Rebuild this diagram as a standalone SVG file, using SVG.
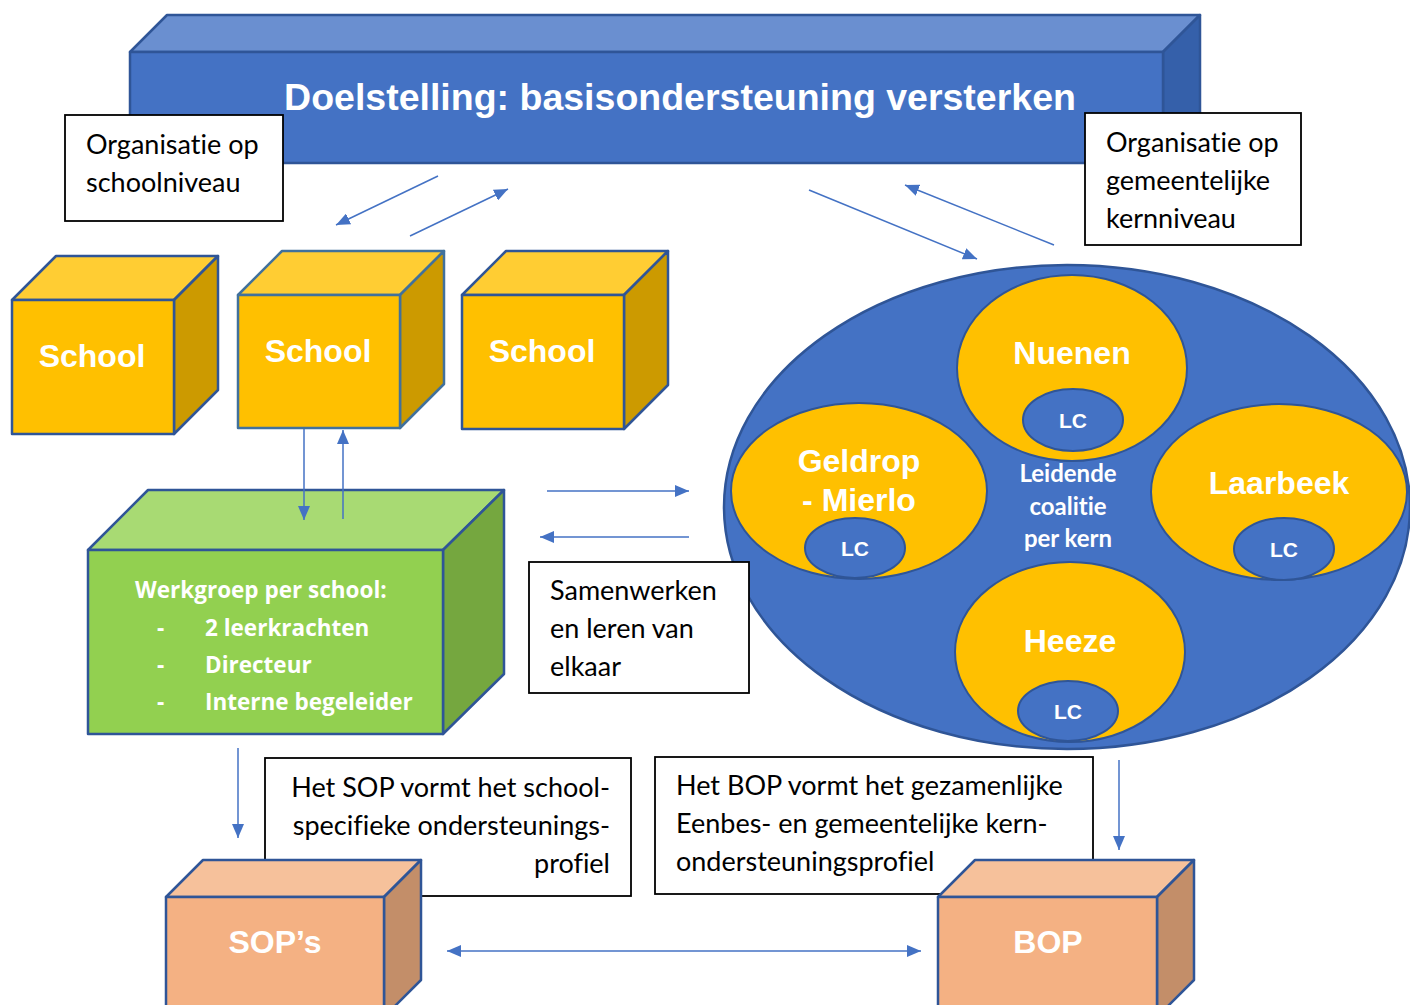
<svg xmlns="http://www.w3.org/2000/svg" width="1410" height="1005" viewBox="0 0 1410 1005">
<defs>
<marker id="ah" viewBox="0 0 14 12" refX="14" refY="6" markerWidth="14" markerHeight="12" markerUnits="userSpaceOnUse" orient="auto-start-reverse">
<path d="M0,0 L14,6 L0,12 z" fill="#4472C4"/>
</marker>
<style>
.sh{stroke:#2F5597;stroke-width:2.5;stroke-linejoin:round}
.bf{fill:#4472C4}.bt{fill:#6A8FD0}.bs{fill:#3560AA}
.yf{fill:#FFC000}.yt{fill:#FFCD33}.ys{fill:#CC9A00}
.gf{fill:#92D050}.gt{fill:#A8DA73}.gs{fill:#75A73F}
.pf{fill:#F4B183}.pt{fill:#F6C19B}.ps{fill:#C38E69}
.tb{fill:#FFFFFF;stroke:#000000;stroke-width:1.8}
.bt1{font-family:"Liberation Sans",Arial,sans-serif;font-weight:bold;fill:#FFFFFF;text-anchor:middle}
.cal{font-family:Lato,"Liberation Sans",sans-serif;font-size:27px;fill:#000000;font-variant-ligatures:none}
.calb{font-family:Lato,"Liberation Sans",sans-serif;font-weight:bold;fill:#FFFFFF;font-variant-ligatures:none}
.wg{font-family:"Open Sans","Liberation Sans",sans-serif;font-weight:bold;fill:#FFFFFF;font-size:22.5px}
.con{stroke:#4472C4;stroke-width:1.5;fill:none;marker-end:url(#ah)}
</style>
</defs>

<g id="banner">
<polygon class="sh bt" points="130,52 167,15 1200,15 1163,52"/>
<polygon class="sh bs" points="1163,52 1200,15 1200,126 1163,163"/>
<rect class="sh bf" x="130" y="52" width="1033" height="111"/>
<text class="bt1" x="680" y="110" font-size="37.5">Doelstelling: basisondersteuning versterken</text>
</g>

<g id="label-school">
<rect class="tb" x="65" y="115" width="218" height="106"/>
<text class="cal" x="86" y="154">Organisatie op</text>
<text class="cal" x="86" y="192">schoolniveau</text>
</g>

<g id="label-gemeente">
<rect class="tb" x="1085" y="113" width="216" height="132"/>
<text class="cal" x="1106" y="152">Organisatie op</text>
<text class="cal" x="1106" y="190">gemeentelijke</text>
<text class="cal" x="1106" y="228">kernniveau</text>
</g>

<g id="school1">
<polygon class="sh yt" points="12,300 56,256 218,256 174,300"/>
<polygon class="sh ys" points="174,300 218,256 218,390 174,434"/>
<rect class="sh yf" x="12" y="300" width="162" height="134"/>
<text class="bt1" x="92" y="367" font-size="32">School</text>
</g>

<g id="school2">
<polygon class="sh yt" points="238,295 282,251 444,251 400,295" style="stroke:#41719C"/>
<polygon class="sh ys" points="400,295 444,251 444,384 400,428" style="stroke:#41719C"/>
<rect class="sh yf" x="238" y="295" width="162" height="133" style="stroke:#41719C"/>
<text class="bt1" x="318" y="362" font-size="32">School</text>
</g>

<g id="school3">
<polygon class="sh yt" points="462,295 506,251 668,251 624,295"/>
<polygon class="sh ys" points="624,295 668,251 668,385 624,429"/>
<rect class="sh yf" x="462" y="295" width="162" height="134"/>
<text class="bt1" x="542" y="362" font-size="32">School</text>
</g>

<g id="werkgroep">
<polygon class="sh gt" points="88,550 148,490 504,490 443,550"/>
<polygon class="sh gs" points="443,550 504,490 504,674 443,734"/>
<rect class="sh gf" x="88" y="550" width="355" height="184"/>
<text class="wg" x="135" y="598">Werkgroep per school:</text>
<text class="wg" x="157" y="636">-</text>
<text class="wg" x="205" y="636">2 leerkrachten</text>
<text class="wg" x="157" y="673">-</text>
<text class="wg" x="205" y="673">Directeur</text>
<text class="wg" x="157" y="710">-</text>
<text class="wg" x="205" y="710">Interne begeleider</text>
</g>

<g id="kernen">
<ellipse cx="1067" cy="507" rx="343" ry="242" fill="#4472C4" stroke="#2F5597" stroke-width="2.5"/>
<g id="nuenen">
<ellipse cx="1072" cy="368" rx="115" ry="93" fill="#FFC000" stroke="#2F5597" stroke-width="2"/>
<text class="bt1" x="1072" y="364" font-size="32">Nuenen</text>
<ellipse cx="1073" cy="420" rx="50" ry="31" fill="#4472C4" stroke="#2F5597" stroke-width="2"/>
<text class="bt1" x="1073" y="428" font-size="21">LC</text>
</g>
<g id="geldrop">
<ellipse cx="859" cy="491" rx="128" ry="88" fill="#FFC000" stroke="#2F5597" stroke-width="2"/>
<text class="bt1" x="859" y="472" font-size="32">Geldrop</text>
<text class="bt1" x="859" y="511" font-size="32">- Mierlo</text>
<ellipse cx="855" cy="548" rx="50" ry="30" fill="#4472C4" stroke="#2F5597" stroke-width="2"/>
<text class="bt1" x="855" y="556" font-size="21">LC</text>
</g>
<g id="laarbeek">
<ellipse cx="1279" cy="492" rx="128" ry="88" fill="#FFC000" stroke="#2F5597" stroke-width="2"/>
<text class="bt1" x="1279" y="494" font-size="32">Laarbeek</text>
<ellipse cx="1284" cy="549" rx="50" ry="31" fill="#4472C4" stroke="#2F5597" stroke-width="2"/>
<text class="bt1" x="1284" y="557" font-size="21">LC</text>
</g>
<g id="heeze">
<ellipse cx="1070" cy="652" rx="115" ry="90" fill="#FFC000" stroke="#2F5597" stroke-width="2"/>
<text class="bt1" x="1070" y="652" font-size="32">Heeze</text>
<ellipse cx="1068" cy="711" rx="50" ry="30" fill="#4472C4" stroke="#2F5597" stroke-width="2"/>
<text class="bt1" x="1068" y="719" font-size="21">LC</text>
</g>
<g id="leidende">
<text class="calb" x="1068" y="482" font-size="24" text-anchor="middle">Leidende</text>
<text class="calb" x="1068" y="515" font-size="24" text-anchor="middle">coalitie</text>
<text class="calb" x="1068" y="547" font-size="24" text-anchor="middle">per kern</text>
</g>
</g>

<g id="label-samenwerken">
<rect class="tb" x="529" y="562" width="220" height="131"/>
<text class="cal" x="550" y="600">Samenwerken</text>
<text class="cal" x="550" y="638">en leren van</text>
<text class="cal" x="550" y="676">elkaar</text>
</g>

<g id="label-sop">
<rect class="tb" x="265" y="758" width="366" height="138"/>
<text class="cal" x="610" y="797" text-anchor="end">Het SOP vormt het school-</text>
<text class="cal" x="610" y="835" text-anchor="end">specifieke ondersteunings-</text>
<text class="cal" x="610" y="873" text-anchor="end">profiel</text>
</g>

<g id="label-bop">
<rect class="tb" x="655" y="757" width="438" height="137"/>
<text class="cal" x="676" y="795">Het BOP vormt het gezamenlijke</text>
<text class="cal" x="676" y="833">Eenbes- en gemeentelijke kern-</text>
<text class="cal" x="676" y="871">ondersteuningsprofiel</text>
</g>

<g id="sop">
<polygon class="sh pt" points="166,897 203,860 421,860 384,897"/>
<polygon class="sh ps" points="384,897 421,860 421,980 384,1017"/>
<rect class="sh pf" x="166" y="897" width="218" height="120"/>
<text class="bt1" x="275" y="953" font-size="32">SOP’s</text>
</g>

<g id="bop">
<polygon class="sh pt" points="938,897 975,860 1194,860 1157,897"/>
<polygon class="sh ps" points="1157,897 1194,860 1194,980 1157,1017"/>
<rect class="sh pf" x="938" y="897" width="219" height="120"/>
<text class="bt1" x="1048" y="953" font-size="32">BOP</text>
</g>

<g id="connectors">
<line class="con" x1="438" y1="176" x2="336" y2="225"/>
<line class="con" x1="410" y1="236" x2="508" y2="189"/>
<line class="con" x1="809" y1="190" x2="977" y2="259"/>
<line class="con" x1="1054" y1="245" x2="905" y2="185"/>
<line class="con" x1="304" y1="429" x2="304" y2="520"/>
<line class="con" x1="343" y1="519" x2="343" y2="430"/>
<line class="con" x1="547" y1="491" x2="689" y2="491"/>
<line class="con" x1="689" y1="537" x2="540" y2="537"/>
<line class="con" x1="238" y1="748" x2="238" y2="838"/>
<line class="con" x1="1119" y1="760" x2="1119" y2="850"/>
<line class="con" x1="447" y1="951" x2="921" y2="951" style="marker-start:url(#ah)"/>
</g>
</svg>
